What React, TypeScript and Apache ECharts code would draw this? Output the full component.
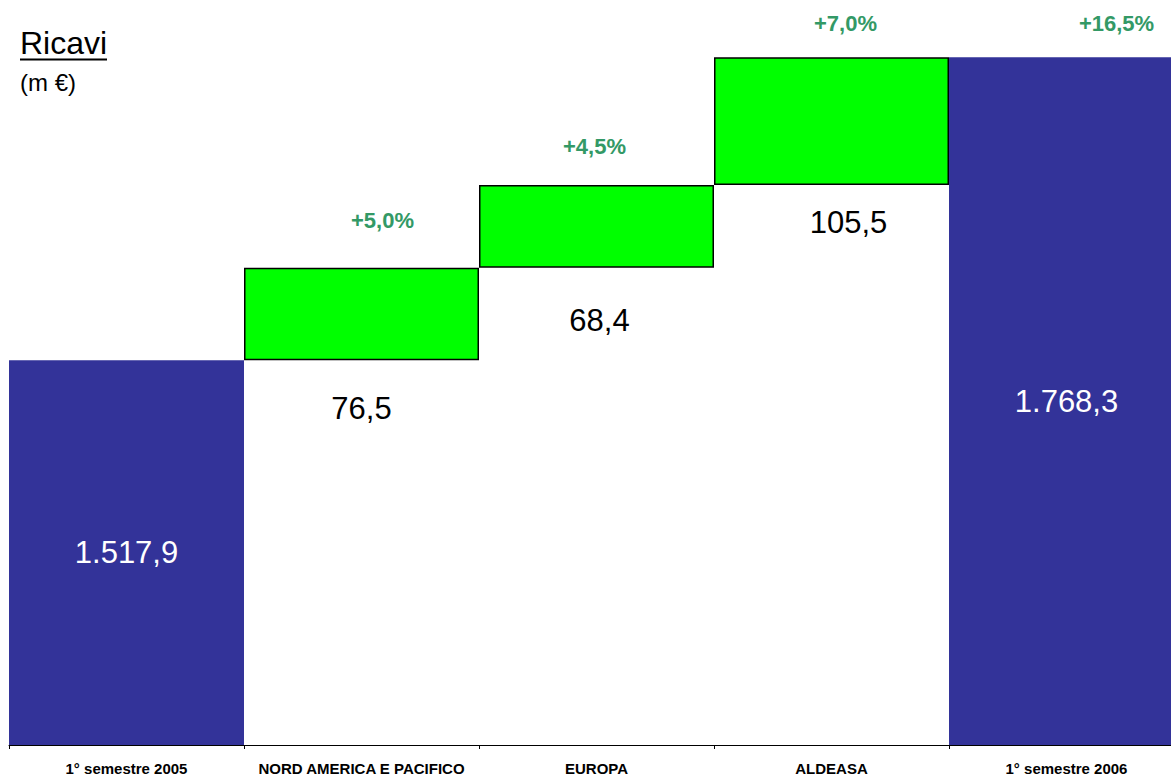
import React, { useEffect, useRef } from "react";
import * as echarts from "echarts";

const categories = [
  "1° semestre 2005",
  "NORD AMERICA E PACIFICO",
  "EUROPA",
  "ALDEASA",
  "1° semestre 2006",
];
const startTotal = 1517.9;
const deltas = [76.5, 68.4, 105.5];
const endTotal = 1768.3;
const pctLabels = ["+5,0%", "+4,5%", "+7,0%", "+16,5%"];
const yMin = 1200;
const yMax = 1800;

const FONT = "'Liberation Sans', Arial, sans-serif";
const BLUE = "#333399";
const GREEN = "#00FF00";
const PCT_COLOR = "#339966";

function fmt(v: number): string {
  const [i, d] = v.toFixed(1).split(".");
  const withDots = i.replace(/\B(?=(\d{3})+(?!\d))/g, ".");
  return withDots + "," + d;
}

export default function App() {
  const ref = useRef<HTMLDivElement>(null);
  useEffect(() => {
    if (!ref.current) return;
    const chart = echarts.init(ref.current, undefined, { renderer: "svg" });

    // running bases for the floating bars
    const bases: number[] = [];
    let run = startTotal;
    deltas.forEach((d) => {
      bases.push(run);
      run += d;
    });

    const baseData: any[] = [0, ...bases, 0];
    const deltaData: any[] = ["-", ...deltas, "-"];
    const totalData: any[] = [startTotal, "-", "-", "-", endTotal];

    // label layout tweaks (positions only)
    const valDist = [33, 37, 22];
    const valOff = [[0, 0], [3, 0], [17, 0]];
    const pctDist = [36, 28, 23, 23];
    const pctOff = [[21, 0], [-2, 0], [14, 0], [50, 0]];

    const baseSeriesData = baseData.map((v, i) => {
      if (i >= 1 && i <= 3) {
        return {
          value: v,
          label: {
            show: true,
            position: "insideTop",
            distance: valDist[i - 1],
            offset: valOff[i - 1],
            formatter: () => fmt(deltas[i - 1]),
          },
        };
      }
      return { value: v, label: { show: false } };
    });

    const pctData = [
      "-",
      ...pctLabels.map((p, k) => ({
        value: 0,
        label: {
          show: true,
          position: "top",
          distance: pctDist[k],
          offset: pctOff[k],
          formatter: () => p,
        },
      })),
    ];

    const option: any = {
      animation: false,
      grid: { left: 9, right: 0, top: 19, bottom: 29, containLabel: false },
      xAxis: {
        type: "category",
        data: categories,
        axisLine: { show: true, lineStyle: { color: "#000", width: 1 } },
        axisTick: { show: true, length: 4, lineStyle: { color: "#000" } },
        axisLabel: {
          color: "#000",
          fontFamily: FONT,
          fontWeight: "bold",
          fontSize: 15,
          margin: 16,
          interval: 0,
        },
        splitLine: { show: false },
      },
      yAxis: {
        type: "value",
        min: yMin,
        max: yMax,
        show: false,
        splitLine: { show: false },
      },
      series: [
        {
          name: "base",
          type: "bar",
          stack: "w",
          barWidth: "100%",
          barCategoryGap: "0%",
          itemStyle: { color: "rgba(0,0,0,0)" },
          label: {
            color: "#000",
            fontFamily: FONT,
            fontSize: 31,
          },
          emphasis: { disabled: true },
          data: baseSeriesData,
        },
        {
          name: "total",
          type: "bar",
          stack: "w",
          barWidth: "100%",
          barCategoryGap: "0%",
          itemStyle: { color: BLUE },
          label: {
            show: true,
            position: "inside",
            color: "#fff",
            fontFamily: FONT,
            fontSize: 31,
            formatter: (p: any) => fmt(p.value),
          },
          emphasis: { disabled: true },
          data: totalData,
        },
        {
          name: "delta",
          type: "bar",
          stack: "w",
          barWidth: "100%",
          barCategoryGap: "0%",
          itemStyle: { color: GREEN, borderColor: "#000", borderWidth: 1.5 },
          emphasis: { disabled: true },
          data: deltaData,
        },
        {
          name: "pct",
          type: "bar",
          stack: "w",
          barWidth: "100%",
          barCategoryGap: "0%",
          itemStyle: { color: "rgba(0,0,0,0)" },
          label: {
            color: PCT_COLOR,
            fontFamily: FONT,
            fontWeight: "bold",
            fontSize: 22,
          },
          emphasis: { disabled: true },
          data: pctData,
        },
      ],
      graphic: [
        {
          type: "text",
          left: 20,
          top: 27,
          style: {
            text: "Ricavi",
            fontFamily: FONT,
            fontSize: 32,
            fill: "#000",
          },
        },
        {
          type: "line",
          shape: { x1: 20, y1: 59.5, x2: 107, y2: 59.5 },
          style: { stroke: "#000", lineWidth: 2 },
        },
        {
          type: "text",
          left: 20,
          top: 70,
          style: {
            text: "(m €)",
            fontFamily: FONT,
            fontSize: 24,
            fill: "#000",
          },
        },
      ],
    };
    chart.setOption(option);
    return () => chart.dispose();
  }, []);

  return (
    <div
      style={{
        position: "absolute",
        left: 0,
        top: 0,
        width: 1171,
        height: 776,
        overflow: "hidden",
        background: "#fff",
      }}
    >
      <div ref={ref} style={{ width: 1184, height: 776 }} />
    </div>
  );
}
